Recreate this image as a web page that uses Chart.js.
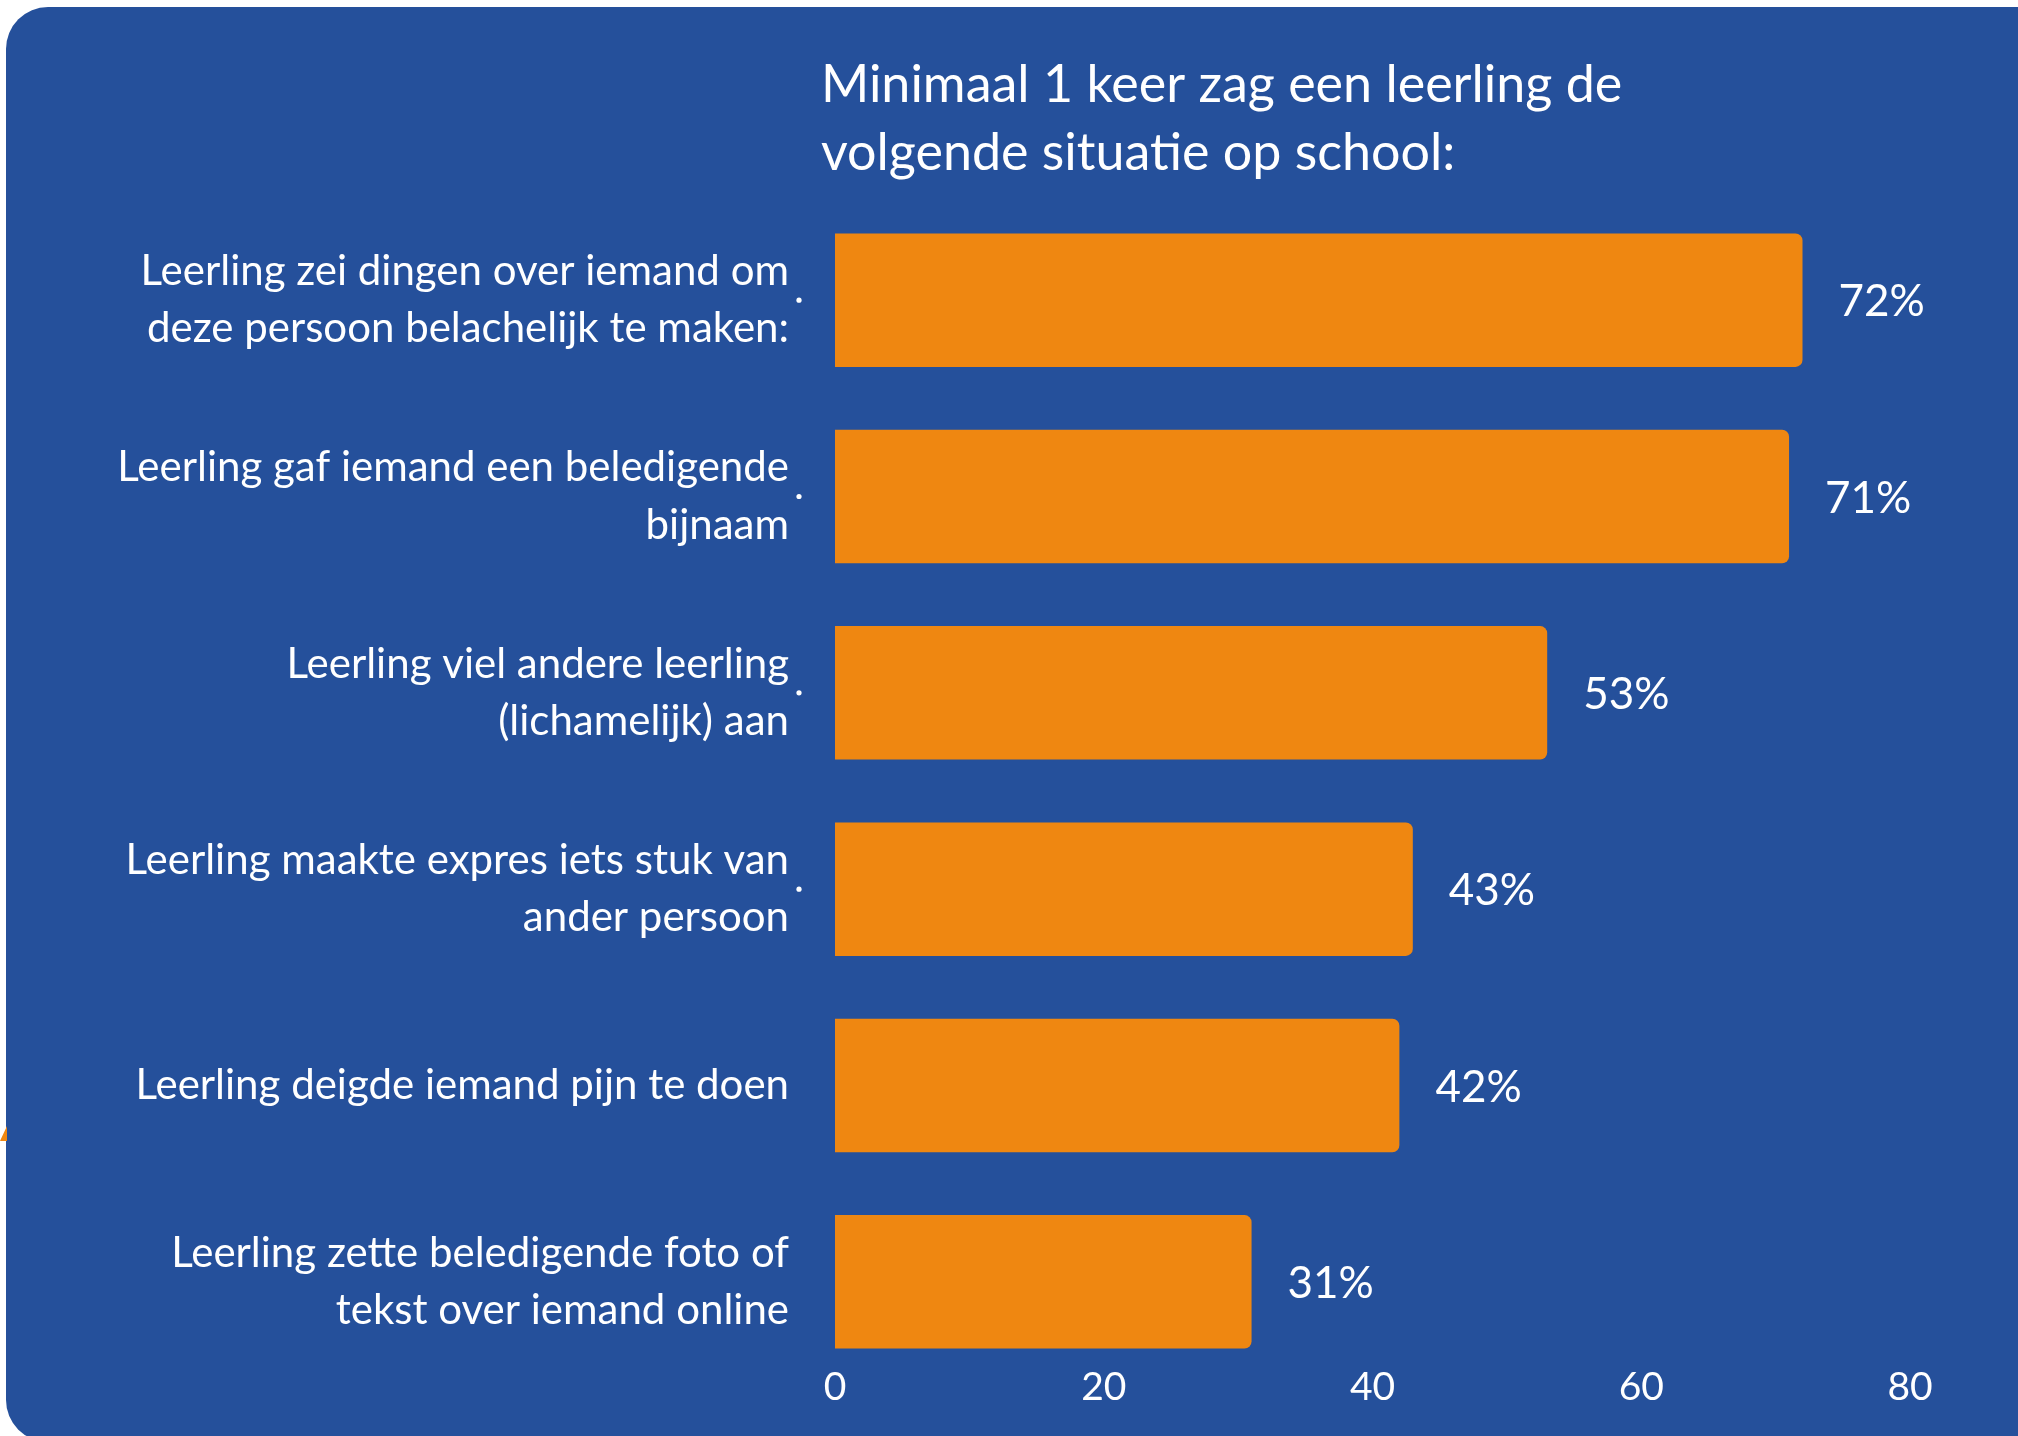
<!DOCTYPE html>
<html>
<head>
<meta charset="utf-8">
<script src="https://cdn.jsdelivr.net/npm/chart.js@4"></script>
<style>
  html, body { margin: 0; padding: 0; background: #ffffff; width: 2018px; height: 1436px; overflow: hidden; }
  #panel { position: absolute; left: 6px; top: 7px; width: 2060px; height: 1435px; border-radius: 42px; background: #25509b; }
  #nub { position: absolute; left: 0; top: 1126px; width: 7px; height: 15px; background: #ef8711; clip-path: polygon(100% 0, 100% 100%, 0 100%); }
  #chart { position: absolute; left: 0; top: 0; }
</style>
</head>
<body>
<div id="panel"></div>
<div id="nub"></div>
<canvas id="chart" width="2018" height="1436"></canvas>
<script>
const titleLines = ['Minimaal 1 keer zag een leerling de', 'volgende situatie op school:'];
const categories = [
  ['Leerling zei dingen over iemand om', 'deze persoon belachelijk te maken:'],
  ['Leerling gaf iemand een beledigende', 'bijnaam'],
  ['Leerling viel andere leerling', '(lichamelijk) aan'],
  ['Leerling maakte expres iets stuk van', 'ander persoon'],
  'Leerling deigde iemand pijn te doen',
  ['Leerling zette beledigende foto of', 'tekst over iemand online']
];
const percentages = [72, 71, 53, 43, 42, 31];
const xTicks = [0, 20, 40, 60, 80];
const dottedRows = [0, 1, 2, 3];

Chart.defaults.font.family = "Lato, 'Open Sans', sans-serif";
Chart.defaults.color = '#ffffff';

// title, little dots and the % labels
const extras = {
  id: 'extras',
  afterDraw(chart) {
    const ctx = chart.ctx;
    ctx.save();
    ctx.fillStyle = '#ffffff';
    ctx.textAlign = 'left';
    ctx.textBaseline = 'alphabetic';
    ctx.font = "52px Lato, 'Open Sans', sans-serif";
    ctx.fillText(titleLines[0], 821, 102);
    ctx.fillText(titleLines[1], 821, 170);

    const yScale = chart.scales.y;
    dottedRows.forEach(i => {
      ctx.beginPath();
      ctx.arc(799, yScale.getPixelForValue(i), 2.6, 0, Math.PI * 2);
      ctx.fill();
    });

    ctx.font = "44px Lato, 'Open Sans', sans-serif";
    ctx.textBaseline = 'middle';
    chart.getDatasetMeta(0).data.forEach((bar, i) => {
      ctx.fillText(percentages[i] + '%', bar.x + 36, bar.y + 2);
    });
    ctx.restore();
  }
};

new Chart(document.getElementById('chart'), {
  type: 'bar',
  data: {
    labels: categories,
    datasets: [{
      data: percentages,
      backgroundColor: '#ef8711',
      barPercentage: 0.68,
      categoryPercentage: 1,
      borderRadius: 7,
      borderSkipped: 'start'
    }]
  },
  options: {
    indexAxis: 'y',
    responsive: false,
    devicePixelRatio: 1,
    animation: false,
    layout: { padding: { top: 202, right: 108, bottom: 0, left: 0 } },
    plugins: {
      legend: { display: false },
      tooltip: { enabled: false },
      title: { display: false }
    },
    scales: {
      x: {
        min: xTicks[0],
        max: xTicks[xTicks.length - 1],
        afterBuildTicks: (scale) => { scale.ticks = xTicks.map(v => ({ value: v })); },
        ticks: { color: '#ffffff', font: { size: 39 }, mirror: true, padding: -31 },
        grid: { display: false, drawTicks: false },
        border: { display: false },
        afterFit: (scale) => { scale.height = 56; }
      },
      y: {
        ticks: { color: '#ffffff', font: { size: 42, lineHeight: 1.36 }, padding: 46 },
        grid: { display: false, drawTicks: false },
        border: { display: false },
        afterFit: (scale) => {
          scale.width = 835;
          scale.paddingTop = 0;
          scale.paddingBottom = 0;
        }
      }
    }
  },
  plugins: [extras]
});
</script>
</body>
</html>
